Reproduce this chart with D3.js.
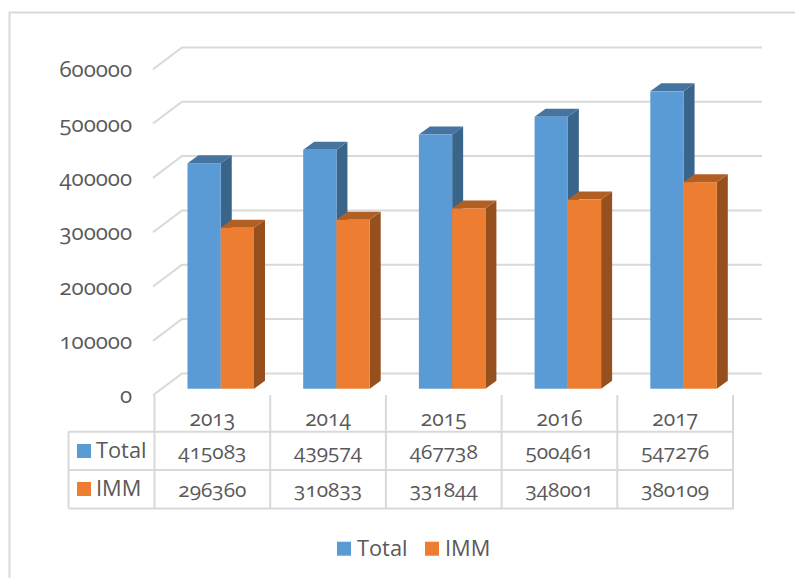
<!DOCTYPE html>
<html><head><meta charset="utf-8">
<script src="https://cdn.jsdelivr.net/npm/d3@7"></script>
<style>
body{margin:0;background:#fff}
svg{display:block}
.num{font-family:"Open Sans",sans-serif;font-feature-settings:"onum" 1;fill:#595959}
.lab{font-family:"Open Sans",sans-serif;fill:#595959}
</style></head><body>
<svg id="chart" width="795" height="578"></svg>
<script>
var years = ["2013", "2014", "2015", "2016", "2017"];
var seriesNames = ["Total", "IMM"];
var totalValues = [415083, 439574, 467738, 500461, 547276];
var immValues = [296360, 310833, 331844, 348001, 380109];
var yTicks = [0, 100000, 200000, 300000, 400000, 500000, 600000];

var blue = {front: "#5b9bd5", side: "#39658b", top: "#44749f"};
var orange = {front: "#ed7d31", side: "#95501d", top: "#b25f24"};
var gridColor = "#d9d9d9";

var svg = d3.select("#chart");

var y = d3.scaleLinear().domain([0, 600000]).range([388.7, 62.7]);
var x = d3.scaleBand().domain(years).range([154.5, 733]);
var xBar = d3.scaleBand().domain(seriesNames).range([33, 99.5]);

// how far the back wall and the left side sit from the bars' front plane
var wallX = 182, wallRight = 762, wallUp = 15.3, sideX = 153, sideDown = 6.5;
var depthX = 11, depthY = 8;

// frame, open at the right and bottom
svg.append("path")
  .attr("d", "M9.5,578V12.5H795")
  .attr("fill", "none").attr("stroke", gridColor).attr("stroke-width", 2);

// gridlines
svg.append("g").selectAll("path").data(yTicks).enter().append("path")
  .attr("d", function(d) {
    return "M" + sideX + "," + (y(d) + sideDown) + "L" + wallX + "," + (y(d) - wallUp) + "H" + wallRight;
  })
  .attr("fill", "none").attr("stroke", gridColor).attr("stroke-width", 2);

// y labels
svg.append("g").selectAll("text").data(yTicks).enter().append("text")
  .attr("class", "num")
  .attr("x", 132).attr("y", function(d) { return y(d) + 14.5; })
  .attr("text-anchor", "end").attr("font-size", 22.2)
  .text(function(d) { return d; });

function drawBars(name, values, col) {
  var g = svg.append("g").selectAll("g").data(values).enter().append("g");
  var x0 = function(i) { return x(years[i]) + xBar(name); };
  var w = xBar.bandwidth();
  g.append("path").attr("fill", col.side).attr("d", function(d, i) {
    var r = x0(i) + w;
    return "M" + r + "," + y(d) + "l" + depthX + "," + (-depthY) + "V" + (y(0) - depthY) + "l" + (-depthX) + "," + depthY + "Z";
  });
  g.append("path").attr("fill", col.top).attr("d", function(d, i) {
    return "M" + x0(i) + "," + y(d) + "l" + depthX + "," + (-depthY) + "h" + w + "l" + (-depthX) + "," + depthY + "Z";
  });
  g.append("rect").attr("fill", col.front)
    .attr("x", function(d, i) { return x0(i); })
    .attr("y", function(d) { return y(d); })
    .attr("width", w)
    .attr("height", function(d) { return y(0) - y(d); });
}
// orange goes second so it sits in front of blue's side
drawBars("Total", totalValues, blue);
drawBars("IMM", immValues, orange);

// data table
var rowY = [431.7, 470, 508.5];
var table = svg.append("g").attr("stroke", gridColor).attr("stroke-width", 2).attr("fill", "none");
rowY.forEach(function(ry) {
  table.append("line").attr("x1", 68.5).attr("x2", x.range()[1] + 1).attr("y1", ry).attr("y2", ry);
});
table.append("line").attr("x1", 68.5).attr("x2", 68.5).attr("y1", rowY[0]).attr("y2", rowY[2]);
years.forEach(function(c) {
  table.append("line").attr("x1", x(c)).attr("x2", x(c)).attr("y1", 395).attr("y2", rowY[2]);
});
table.append("line").attr("x1", x.range()[1]).attr("x2", x.range()[1]).attr("y1", 395).attr("y2", rowY[2]);

var center = function(c) { return x(c) + x.bandwidth() / 2; };
svg.append("g").selectAll("text").data(years).enter().append("text")
  .attr("class", "num").attr("text-anchor", "middle").attr("font-size", 21)
  .attr("x", center).attr("y", 426).text(function(d) { return d; });

[totalValues, immValues].forEach(function(vals, r) {
  svg.append("g").selectAll("text").data(vals).enter().append("text")
    .attr("class", "num").attr("text-anchor", "middle").attr("font-size", 20.8)
    .attr("x", function(d, i) { return center(years[i]); })
    .attr("y", [458.5, 496.5][r]).text(function(d) { return d; });
});

var cols = [blue, orange];
seriesNames.forEach(function(s, r) {
  svg.append("rect").attr("x", 77).attr("y", [444, 482][r]).attr("width", 14).attr("height", 14).attr("fill", cols[r].front);
  svg.append("text").attr("class", "lab").attr("x", 96).attr("y", [458, 496][r]).attr("font-size", 21.8).text(s);
});

// bottom legend
var legendX = [337, 425];
seriesNames.forEach(function(s, r) {
  svg.append("rect").attr("x", legendX[r]).attr("y", 541.7).attr("width", 14).attr("height", 14).attr("fill", cols[r].front);
  svg.append("text").attr("class", "lab").attr("x", legendX[r] + 20).attr("y", 556).attr("font-size", 21.8).text(s);
});
</script></body></html>
